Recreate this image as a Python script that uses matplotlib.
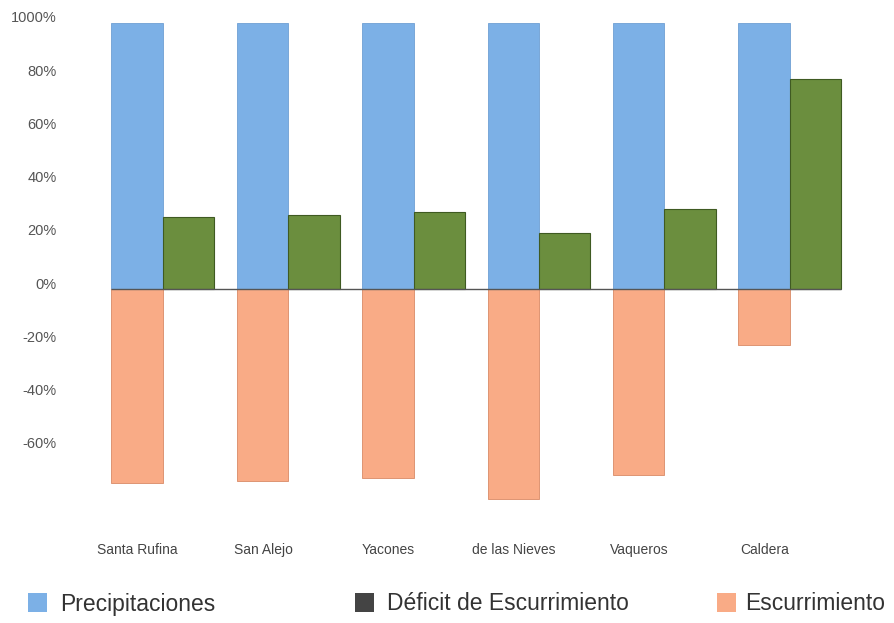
import matplotlib
matplotlib.use("Agg")
import matplotlib.pyplot as plt
import matplotlib.transforms as mtransforms
from matplotlib.patches import Rectangle
import numpy as np

plt.rcParams['font.family'] = ['Liberation Sans', 'DejaVu Sans']

# Cuencas y balance hídrico (% de la precipitación)
cuencas = ["Santa Rufina", "San Alejo", "Yacones", "de las Nieves", "Vaqueros", "Caldera"]
precipitaciones = [100, 100, 100, 100, 100, 100]
deficit = [27, 28, 29, 21, 30, 79]
escurrimiento = [-73, -72, -71, -79, -70, -21]
yticks = [100, 80, 60, 40, 20, 0, -20, -40, -60]
yticklabels = ["1000%", "80%", "60%", "40%", "20%", "0%", "-20%", "-40%", "-60%"]

c_prec = "#7cb0e6"
c_def = "#6b8e3e"
c_esc = "#f9ab86"
c_leg_def = "#444444"

fig = plt.figure(figsize=(8.94, 6.23), dpi=100)
ax = fig.add_axes([100 / 894, 113 / 623, 755 / 894, 490 / 623])

x = np.arange(len(cuencas))
w = 0.41
ax.bar(x - w / 2, precipitaciones, w, color=c_prec, edgecolor="#6f9fd4", linewidth=0.6, zorder=2)
ax.bar(x + w / 2, deficit, w, color=c_def, edgecolor="#3f5a22", linewidth=0.8, zorder=2)
ax.bar(x - w / 2, escurrimiento, w, color=c_esc, edgecolor="#d98a66", linewidth=0.6, zorder=2)

ax.hlines(0, x[0] - w, x[-1] + w, color="#555555", linewidth=1.0, zorder=3)

ax.set_xlim(-0.5, 5.52)
ax.set_ylim(-83, 101.1)

ax.set_yticks(yticks)
ax.set_yticklabels(yticklabels)
ax.tick_params(axis="y", length=0, pad=31, labelsize=10.5, labelcolor="#555555")
offset = mtransforms.ScaledTranslation(0, 6 / 100, fig.dpi_scale_trans)
for lab in ax.get_yticklabels():
    lab.set_transform(lab.get_transform() + offset)

ax.set_xticks(x - 0.2)
ax.set_xticklabels(cuencas)
ax.tick_params(axis="x", length=0, pad=24, labelsize=10, labelcolor="#444444")

for s in ax.spines.values():
    s.set_visible(False)

# Leyenda
legend_items = [
    (28, c_prec, 60, "Precipitaciones"),
    (355, c_leg_def, 387, "Déficit de Escurrimiento"),
    (717, c_esc, 745, "Escurrimiento"),
]
for sx, col, tx, txt in legend_items:
    fig.patches.append(Rectangle((sx / 894, (623 - 612) / 623), 19 / 894, 19 / 623,
                                 transform=fig.transFigure, facecolor=col, edgecolor="none"))
    fig.text(tx / 894, (623 - 604) / 623, txt, fontsize=16.5, color="#333333",
             va="center", ha="left")

fig.savefig("out.png", dpi=100)
